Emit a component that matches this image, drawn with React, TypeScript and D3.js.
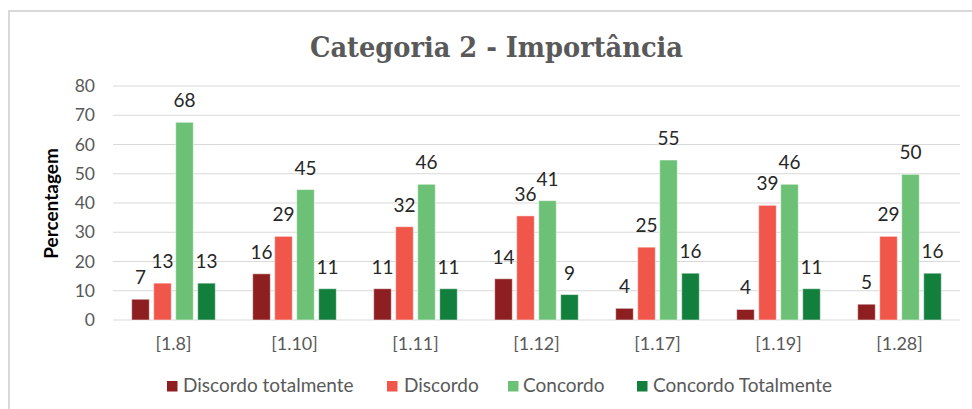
import React from "react";
import * as d3 from "d3";

const categories = ["[1.8]", "[1.10]", "[1.11]", "[1.12]", "[1.17]", "[1.19]", "[1.28]"];
const seriesNames = ["Discordo totalmente", "Discordo", "Concordo", "Concordo Totalmente"];
const discordoTotalmente = [7.1, 15.8, 10.7, 14.1, 4.0, 3.6, 5.4];
const discordo = [12.6, 28.6, 31.9, 35.6, 24.9, 39.2, 28.6];
const concordo = [67.6, 44.6, 46.4, 40.8, 54.7, 46.4, 49.8];
const concordoTotalmente = [12.6, 10.7, 10.7, 8.7, 16.0, 10.7, 16.0];
const yTicks = [0, 10, 20, 30, 40, 50, 60, 70, 80];
const colors = ["#8E1F20", "#F0564A", "#6CC177", "#137F3D"];

const seriesValues = [discordoTotalmente, discordo, concordo, concordoTotalmente];

export default function App() {
  const W = 972;
  const H = 409;
  const x0 = d3.scaleBand<string>().domain(categories).range([113, 960]).padding(0);
  const x1 = d3
    .scaleBand<string>()
    .domain(seriesNames)
    .range([0, x0.bandwidth()])
    .paddingInner(0.2)
    .paddingOuter(0.85);
  const y = d3.scaleLinear().domain([0, 80]).range([320, 86]);
  const fmt = d3.format(".0f");
  const sans = "Lato, 'Open Sans', sans-serif";

  const legendPos = [
    { sq: 167, tx: 183 },
    { sq: 387, tx: 404 },
    { sq: 508, tx: 523 },
    { sq: 637, tx: 653 },
  ];

  return (
    <svg
      width={W}
      height={H}
      style={{ position: "absolute", left: 0, top: 0, background: "#fff" }}
    >
      <rect x={0} y={0} width={W} height={H} fill="#fff" />
      <rect x={9} y={11} width={W + 20} height={H + 20} fill="none" stroke="#d9d9d9" strokeWidth={2} />
      <text
        x={310}
        y={57}
        textLength={373}
        lengthAdjust="spacingAndGlyphs"
        fontFamily="'DejaVu Serif', serif"
        fontWeight="bold"
        fontSize={27}
        fill="#595959"
      >
        Categoria 2 - Importância
      </text>
      {yTicks.map((t) => (
        <g key={t}>
          <line x1={113} x2={960} y1={y(t)} y2={y(t)} stroke="#d9d9d9" strokeWidth={1} />
          <text
            x={95}
            y={y(t)}
            dy="0.35em"
            textAnchor="end"
            fontFamily={sans}
            fontSize={17.5}
            fill="#595959"
          >
            {t}
          </text>
        </g>
      ))}
      <text
        transform={`translate(58,${203.5}) rotate(-90)`}
        textAnchor="middle"
        fontFamily={sans}
        fontWeight="bold"
        fontSize={19}
        fill="#000"
      >
        Percentagem
      </text>
      {categories.map((c, i) => (
        <g key={c} transform={`translate(${x0(c)},0)`}>
          {seriesNames.map((s, j) => {
            const v = seriesValues[j][i];
            const bx = x1(s)!;
            return (
              <g key={s}>
                <rect
                  x={bx}
                  y={y(v)}
                  width={x1.bandwidth()}
                  height={y(0) - y(v)}
                  fill={colors[j]}
                  stroke="#ffffff"
                  strokeOpacity={0.5}
                  strokeWidth={1}
                />
                <text
                  x={bx + x1.bandwidth() / 2}
                  y={y(v) - 15}
                  textAnchor="middle"
                  fontFamily={sans}
                  fontSize={19}
                  fill="#262626"
                >
                  {fmt(v)}
                </text>
              </g>
            );
          })}
          <text
            x={x0.bandwidth() / 2}
            y={350}
            textAnchor="middle"
            fontFamily={sans}
            fontSize={18}
            fill="#595959"
          >
            {c}
          </text>
        </g>
      ))}
      {seriesNames.map((s, j) => (
        <g key={s}>
          <rect x={legendPos[j].sq} y={381} width={10.5} height={10.5} fill={colors[j]} />
          <text x={legendPos[j].tx} y={391.5} fontFamily={sans} fontSize={19} fill="#595959">
            {s}
          </text>
        </g>
      ))}
    </svg>
  );
}
